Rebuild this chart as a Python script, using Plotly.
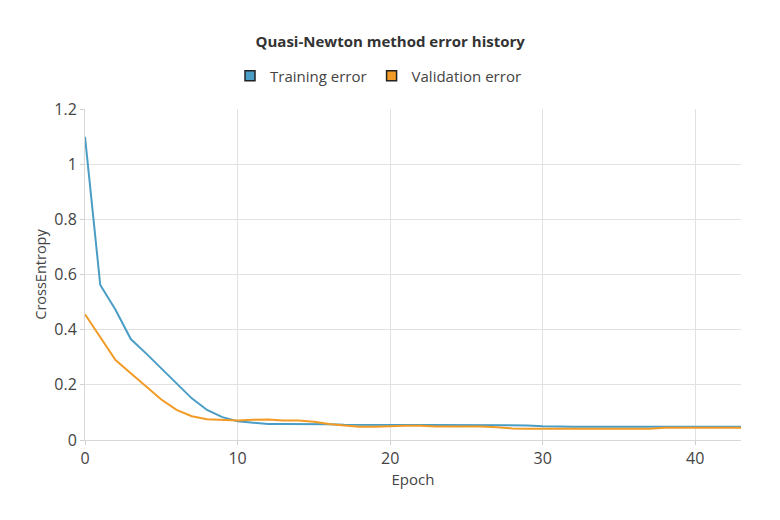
import plotly.graph_objects as go

# Epochs and error values
epochs = list(range(44))

training_error = [1.099, 0.562, 0.472, 0.366, 0.314, 0.260, 0.205, 0.151, 0.109, 0.083,
                  0.068, 0.062, 0.058, 0.058, 0.058, 0.058, 0.057, 0.055, 0.055, 0.055,
                  0.055, 0.055, 0.055, 0.055, 0.055, 0.055, 0.055, 0.055, 0.054, 0.053,
                  0.050, 0.048, 0.048, 0.048, 0.048, 0.048, 0.048, 0.048, 0.048, 0.048,
                  0.048, 0.048, 0.048, 0.048]

validation_error = [0.456, 0.374, 0.290, 0.242, 0.193, 0.147, 0.109, 0.086, 0.075, 0.072,
                    0.071, 0.073, 0.074, 0.071, 0.071, 0.066, 0.058, 0.053, 0.048, 0.048,
                    0.051, 0.052, 0.052, 0.049, 0.049, 0.049, 0.049, 0.046, 0.042, 0.041,
                    0.041, 0.041, 0.041, 0.041, 0.041, 0.041, 0.041, 0.041, 0.044, 0.044,
                    0.044, 0.044, 0.044, 0.044]

series_names = ["Training error", "Validation error"]
colors = ["#4a9dc4", "#f29b26"]

fig = go.Figure()

for name, values, color in zip(series_names, [training_error, validation_error], colors):
    fig.add_trace(go.Scatter(x=epochs, y=values, mode="lines", name=name,
                             line=dict(color=color, width=2), showlegend=False))
    # square legend swatch
    fig.add_trace(go.Scatter(x=[None], y=[None], mode="markers", name=name,
                             marker=dict(symbol="square", size=10, color=color,
                                         line=dict(color="#222", width=1.5))))

# page has an 8px body margin, so margins are shifted to compensate
fig.update_layout(
    width=780, height=520,
    paper_bgcolor="white", plot_bgcolor="white",
    font=dict(family="Open Sans", size=14, color="#444"),
    title=dict(text="<b>Quasi-Newton method error history</b>", x=0.49, xanchor="center",
               y=0.935, yanchor="middle", font=dict(size=15, color="#333")),
    legend=dict(orientation="h", xref="container", x=0.475, xanchor="center",
                yref="container", y=0.869, yanchor="middle",
                font=dict(size=15, color="#444"), itemwidth=30, tracegroupgap=0),
    margin=dict(l=77, r=47, t=101, b=88),
    xaxis=dict(title=dict(text="Epoch", standoff=4, font=dict(size=15)), range=[0, 43], dtick=10,
               tickfont=dict(size=16, color="#444"),
               showgrid=True, gridcolor="#e2e2e2", zeroline=False, automargin=False,
               ticks="outside", ticklen=4, tickcolor="#d0d0d0",
               showline=True, linecolor="#d8d8d8"),
    yaxis=dict(title=dict(text="CrossEntropy", standoff=4, font=dict(size=14.5)), range=[0, 1.2], dtick=0.2,
               tickfont=dict(size=16, color="#444"),
               showgrid=True, gridcolor="#e2e2e2", zeroline=False, automargin=False,
               ticks="outside", ticklen=4, tickcolor="#d0d0d0",
               showline=True, linecolor="#d8d8d8"),
)

fig.write_html("out.html")
